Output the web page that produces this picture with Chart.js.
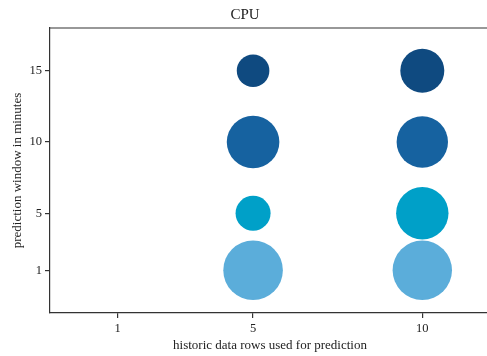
<!DOCTYPE html>
<html>
<head>
<meta charset="utf-8">
<script src="https://cdn.jsdelivr.net/npm/chart.js@4/dist/chart.umd.min.js"></script>
<style>
  html, body { margin: 0; padding: 0; background: #fff; overflow: hidden; }
  #wrap { width: 490px; height: 356px; }
</style>
</head>
<body>
<div id="wrap"><canvas id="chart" width="490" height="356"></canvas></div>
<script>
// historic data rows (x) and prediction windows (y)
const historyRows = [5, 10];
const predictionWindows = [1, 5, 10, 15];
const xTickValues = [1, 5, 10];
const yTickValues = [1, 5, 10, 15];

// bubble size for each prediction window, one value per history setting
const sizeWin1 = [29.8, 29.7];
const sizeWin5 = [17.5, 26.2];
const sizeWin10 = [26.3, 25.7];
const sizeWin15 = [16.3, 22.0];

const seriesColors = ['#5badda', '#00a0c8', '#1662a0', '#0f4a80'];
const sizes = [sizeWin1, sizeWin5, sizeWin10, sizeWin15];

const datasets = predictionWindows.map((w, i) => ({
  label: w + ' min',
  data: historyRows.map((h, j) => ({ x: h, y: w, r: sizes[i][j] })),
  backgroundColor: seriesColors[i],
  borderColor: seriesColors[i],
  borderWidth: 0,
  hoverRadius: 0
}));

const serif = 'Liberation Serif, Times New Roman, serif';
const axisColor = '#333333';

// top spine of the axes frame
const frameTop = {
  id: 'frameTop',
  afterDraw(chart) {
    const { ctx, chartArea } = chart;
    ctx.save();
    ctx.strokeStyle = axisColor;
    ctx.lineWidth = 1.2;
    ctx.beginPath();
    ctx.moveTo(chartArea.left, chartArea.top);
    ctx.lineTo(chartArea.right, chartArea.top);
    ctx.stroke();
    ctx.restore();
  }
};

new Chart(document.getElementById('chart'), {
  type: 'bubble',
  data: { datasets },
  options: {
    responsive: false,
    animation: false,
    layout: { autoPadding: false, padding: { left: 0, right: 0, top: 0, bottom: 0 } },
    plugins: {
      legend: { display: false },
      tooltip: { enabled: false },
      title: {
        display: true,
        text: 'CPU',
        color: '#222',
        font: { family: serif, size: 15, weight: 'normal' },
        padding: { top: 6, bottom: 4 }
      }
    },
    scales: {
      x: {
        type: 'linear',
        min: -1,
        max: 12,
        afterBuildTicks: s => { s.ticks = xTickValues.map(v => ({ value: v })); },
        afterFit: s => { s.height = 43; },
        grid: { display: true, drawOnChartArea: false, drawTicks: true, tickLength: 5, color: axisColor, lineWidth: 1.2 },
        border: { display: true, color: axisColor, width: 1.2 },
        ticks: {
          color: '#222',
          padding: 3,
          maxRotation: 0,
          font: { family: serif, size: 12.5 },
          callback: v => String(v)
        },
        title: {
          display: true,
          text: 'historic data rows used for prediction',
          color: '#222',
          font: { family: serif, size: 13 },
          padding: { top: 0, bottom: 3 }
        }
      },
      y: {
        type: 'linear',
        min: -2,
        max: 18,
        afterBuildTicks: s => { s.ticks = yTickValues.map(v => ({ value: v })); },
        afterFit: s => { s.width = 50; },
        grid: { display: true, drawOnChartArea: false, drawTicks: true, tickLength: 5, color: axisColor, lineWidth: 1.2 },
        border: { display: true, color: axisColor, width: 1.2 },
        ticks: {
          color: '#222',
          padding: 3,
          font: { family: serif, size: 12.5 },
          callback: v => String(v)
        },
        title: {
          display: true,
          text: 'prediction window in minutes',
          color: '#222',
          font: { family: serif, size: 13 },
          padding: { top: 10, bottom: 0 }
        }
      }
    }
  },
  plugins: [frameTop]
});
</script>
</body>
</html>
